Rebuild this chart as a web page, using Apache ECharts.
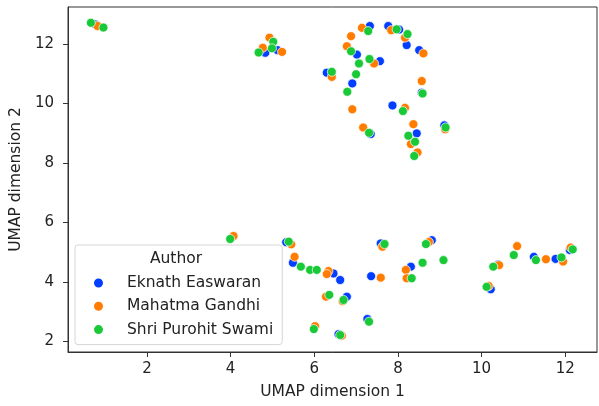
<!DOCTYPE html>
<html>
<head>
<meta charset="utf-8">
<script src="https://cdn.jsdelivr.net/npm/echarts@6/dist/echarts.min.js"></script>
<style>
html,body{margin:0;padding:0;background:#fff;}
#c{width:599px;height:406px;}
</style>
</head>
<body>
<div id="c"></div>
<script>
const authors = ['Eknath Easwaran', 'Mahatma Gandhi', 'Shri Purohit Swami'];
const colors = ['#023eff', '#ff7c00', '#1ac938'];
const xTicks = [2, 4, 6, 8, 10, 12];
const yTicks = [2, 4, 6, 8, 10, 12];

const easwaran = [
  [0.77,12.65],[4.83,11.70],[5.12,11.79],[7.33,12.60],[7.77,12.60],[8.03,12.48],[8.21,11.96],
  [8.51,11.79],[7.02,11.64],[7.57,11.42],[6.30,11.03],[6.91,10.67],[8.57,10.36],[7.87,9.93],
  [7.35,8.97],[8.45,8.99],[9.11,9.26],
  [5.33,5.33],[5.49,4.64],[6.46,4.28],[6.62,4.06],[6.78,3.50],[6.58,2.24],[7.27,2.75],
  [7.36,4.19],[7.59,5.29],[8.81,5.40],[8.31,4.51],[10.22,3.75],[10.40,4.58],[11.25,4.84],
  [11.77,4.77],[12.11,5.07]
];
const gandhi = [
  [0.82,12.60],[4.93,12.21],[4.77,11.87],[5.23,11.73],[7.14,12.54],[7.84,12.46],[8.17,12.21],
  [8.61,11.68],[6.88,12.26],[6.78,11.92],[7.43,11.34],[6.42,10.89],[8.57,10.75],[6.91,9.80],
  [8.17,9.85],[7.17,9.19],[8.37,9.30],[8.31,8.63],[8.47,8.35],[9.13,9.13],
  [4.07,5.54],[5.45,5.26],[5.53,4.84],[6.34,4.36],[6.30,4.26],[6.28,3.50],[6.68,3.35],
  [6.02,2.51],[6.66,2.19],[7.59,4.14],[7.63,5.18],[8.74,5.34],[8.19,4.40],[8.21,4.12],
  [10.42,4.56],[10.85,5.20],[11.54,4.76],[11.95,4.68],[12.13,5.15],[10.17,3.86]
];
const swami = [
  [0.66,12.71],[0.96,12.55],[5.02,12.07],[4.99,11.85],[4.67,11.71],[7.29,12.43],[7.97,12.49],
  [8.23,12.33],[6.88,11.75],[7.07,11.34],[7.32,11.49],[6.42,11.06],[7.00,10.98],[6.79,10.39],
  [8.59,10.33],[8.12,9.74],[7.31,9.01],[8.25,8.91],[8.41,8.71],[8.39,8.23],[9.14,9.19],
  [3.99,5.44],[5.39,5.35],[5.68,4.51],[5.90,4.40],[6.06,4.40],[6.36,3.56],[6.70,3.39],
  [5.99,2.41],[6.62,2.21],[7.31,2.66],[7.68,5.27],[8.67,5.27],[8.59,4.64],[9.09,4.73],
  [8.33,4.12],[10.12,3.83],[10.28,4.51],[10.77,4.90],[11.30,4.73],[11.91,4.82],[12.18,5.09]
];
const seriesData = [easwaran, gandhi, swami];

const FONT = 'DejaVu Sans';
const chart = echarts.init(document.getElementById('c'), null, {renderer: 'canvas'});
chart.setOption({
  animation: false,
  textStyle: {fontFamily: FONT},
  grid: {left: 68, right: 2, top: 7, bottom: 54, show: true, borderColor: '#333', borderWidth: 1, backgroundColor: 'transparent'},
  xAxis: {
    type: 'value', min: 0.113, max: 12.76,
    splitLine: {show: false},
    axisLine: {show: true, onZero: false, lineStyle: {color: '#333', width: 1}},
    axisTick: {show: true, length: 5, lineStyle: {color: '#333'}, customValues: xTicks},
    axisLabel: {customValues: xTicks, fontSize: 15, color: '#222', margin: 10, fontFamily: FONT},
    name: 'UMAP dimension 1', nameLocation: 'middle', nameGap: 32,
    nameTextStyle: {fontSize: 15.5, color: '#222', fontFamily: FONT}
  },
  yAxis: {
    type: 'value', min: 1.64, max: 13.24,
    splitLine: {show: false},
    axisLine: {show: true, onZero: false, lineStyle: {color: '#333', width: 1}},
    axisTick: {show: true, length: 5, lineStyle: {color: '#333'}, customValues: yTicks},
    axisLabel: {customValues: yTicks, fontSize: 15, color: '#222', margin: 14, fontFamily: FONT},
    name: 'UMAP dimension 2', nameLocation: 'middle', nameGap: 42,
    nameTextStyle: {fontSize: 15.5, color: '#222', fontFamily: FONT}
  },
  legend: {
    data: authors,
    orient: 'vertical', left: 75, top: 245,
    padding: [30, 9, 7, 17],
    itemWidth: 11, itemHeight: 11, itemGap: 7.3,
    icon: 'circle',
    backgroundColor: 'rgba(255,255,255,0.8)',
    borderColor: '#d6d6d6', borderWidth: 1, borderRadius: 3,
    textStyle: {fontSize: 15.5, color: '#222', fontFamily: FONT, lineHeight: 16, padding: [0, 0, 0, 18]},
    selectedMode: false
  },
  graphic: [{
    type: 'text', x: 176, y: 258.5, z: 100,
    style: {text: 'Author', fontSize: 15.5, fontFamily: FONT, fill: '#222', align: 'center', verticalAlign: 'middle'}
  }],
  series: authors.map((name, i) => ({
    name: name,
    type: 'scatter',
    data: seriesData[i],
    symbol: 'circle',
    symbolSize: 9,
    itemStyle: {color: colors[i], borderColor: '#fff', borderWidth: 0.7, opacity: 1},
    emphasis: {disabled: true}
  }))
});
</script>
</body>
</html>
